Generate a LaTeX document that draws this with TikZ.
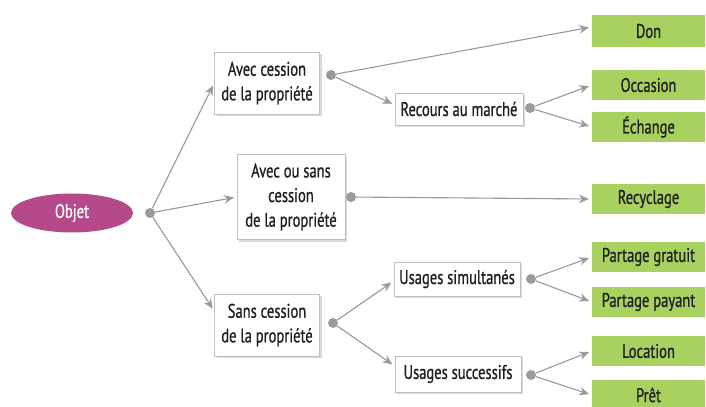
\documentclass[tikz,border=0pt]{standalone}
\usepackage{fontspec}
\setmainfont{PT Sans}[FakeStretch=0.74, FakeBold=0.7]
\usepackage{tikz}
\usetikzlibrary{arrows.meta, shadows, shapes.geometric}
\definecolor{plum}{HTML}{B5498A}
\definecolor{leaf}{HTML}{A8D160}
\definecolor{wire}{HTML}{9A9A9C}
\definecolor{ink}{HTML}{1E1E1E}

\begin{document}
\begin{tikzpicture}[
  font=\fontsize{14}{17.5}\selectfont, text=ink,
  box/.style={draw=gray!50, fill=white, align=center, inner sep=0pt,
    drop shadow={shadow xshift=1.5pt, shadow yshift=-1.5pt, opacity=0.3}},
  leafbox/.style={fill=leaf, minimum width=2.825cm, minimum height=0.75cm, inner sep=0pt},
  dot/.style={circle, fill=wire, inner sep=0pt, minimum size=0.25cm},
  link/.style={draw=wire, line width=0.8pt, -{Stealth[length=7pt,width=6pt]}, shorten >=2pt}
]
  \useasboundingbox (0,0) rectangle (17.65,10.15);

  \node[ellipse, fill=plum, text=white, minimum width=3.05cm, minimum height=0.95cm] (objet) at (1.8,4.825) {Objet};
  \node[dot] (d0) at (3.75,4.825) {};

  \node[box, minimum width=2.625cm, minimum height=1.55cm] (avec) at (6.675,8.075) {Avec cession\\de la propriété};
  \node[box, minimum width=2.7cm, minimum height=2.125cm] (ouSans) at (7.275,5.225) {Avec ou sans\\cession\\de la propriété};
  \node[box, minimum width=2.625cm, minimum height=1.55cm] (sans) at (6.675,2.025) {Sans cession\\de la propriété};
  \node[dot] (d1) at (8.275,8.275) {};
  \node[dot] (d2) at (8.775,5.225) {};
  \node[dot] (d3) at (8.325,2.075) {};

  \node[box, minimum width=3.2cm, minimum height=0.8cm] (marche) at (11.475,7.425) {Recours au marché};
  \node[box, minimum width=3.15cm, minimum height=0.85cm] (simul) at (11.425,3.175) {Usages simultanés};
  \node[box, minimum width=3.15cm, minimum height=0.9cm] (succ) at (11.45,0.8) {Usages successifs};
  \node[dot] (dm) at (13.25,7.45) {};
  \node[dot] (ds) at (13.275,3.175) {};
  \node[dot] (dc) at (13.275,0.775) {};

  \node[leafbox, minimum height=0.8cm] (don) at (16.2125,9.375) {Don};
  \node[leafbox] (occasion) at (16.2125,8.025) {Occasion};
  \node[leafbox] (echange) at (16.2125,6.975) {Échange};
  \node[leafbox] (recyclage) at (16.2125,5.175) {Recyclage};
  \node[leafbox] (gratuit) at (16.2125,3.725) {Partage gratuit};
  \node[leafbox] (payant) at (16.2125,2.6) {Partage payant};
  \node[leafbox] (location) at (16.2125,1.375) {Location};
  \node[leafbox] (pret) at (16.2125,0.275) {Prêt};

  \draw[link] (d0) -- (avec.west);
  \draw[link] (d0) -- (ouSans.west);
  \draw[link] (d0) -- ([yshift=0.35cm]sans.west);
  \draw[link] (d1) -- ([yshift=0.1cm]don.west);
  \draw[link] (d1) -- ([yshift=0.1cm]marche.west);
  \draw[link] (d2) -- (recyclage.west);
  \draw[link] (d3) -- ([yshift=-0.05cm]simul.west);
  \draw[link] (d3) -- ([yshift=0.2cm]succ.west);
  \draw[link] (dm) -- (occasion.west);
  \draw[link] (dm) -- (echange.west);
  \draw[link] (ds) -- (gratuit.west);
  \draw[link] (ds) -- (payant.west);
  \draw[link] (dc) -- (location.west);
  \draw[link] (dc) -- (pret.west);
\end{tikzpicture}
\end{document}
